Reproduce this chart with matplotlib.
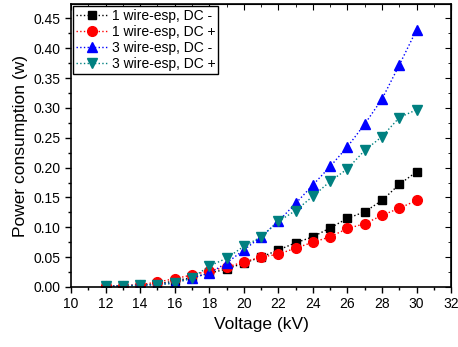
import numpy as np
import matplotlib.pyplot as plt
from matplotlib.ticker import MultipleLocator

plt.rcParams['font.family'] = ['Liberation Sans', 'DejaVu Sans']

voltage = [12, 13, 14, 15, 16, 17, 18, 19, 20, 21, 22, 23, 24, 25, 26, 27, 28, 29, 30]
wire1_neg = [0.001, 0.002, 0.003, 0.005, 0.010, 0.016, 0.023, 0.030, 0.040, 0.050, 0.062,
             0.074, 0.084, 0.099, 0.115, 0.126, 0.145, 0.172, 0.193]
wire1_pos = [0.001, 0.002, 0.004, 0.008, 0.014, 0.020, 0.027, 0.033, 0.042, 0.050, 0.055,
             0.065, 0.075, 0.084, 0.098, 0.106, 0.120, 0.132, 0.145]
wire3_neg = [0.001, 0.002, 0.003, 0.004, 0.007, 0.015, 0.023, 0.040, 0.062, 0.084, 0.110,
             0.140, 0.171, 0.202, 0.235, 0.273, 0.315, 0.372, 0.431]
wire3_pos = [0.001, 0.002, 0.003, 0.004, 0.006, 0.015, 0.035, 0.048, 0.068, 0.084, 0.110,
             0.128, 0.152, 0.177, 0.198, 0.229, 0.252, 0.284, 0.297]

fig = plt.figure(figsize=(4.58, 3.47), dpi=100)
ax = fig.add_axes([0.155, 0.173, 0.83, 0.815])

ax.plot(voltage, wire1_neg, ls=':', lw=1, color='black', marker='s', ms=6, label='1 wire-esp, DC -')
ax.plot(voltage, wire1_pos, ls=':', lw=1, color='red', marker='o', ms=7, label='1 wire-esp, DC +')
ax.plot(voltage, wire3_neg, ls=':', lw=1, color='blue', marker='^', ms=7, label='3 wire-esp, DC -')
ax.plot(voltage, wire3_pos, ls=':', lw=1, color='#008080', marker='v', ms=7, label='3 wire-esp, DC +')

ax.set_xlim(10, 32)
ax.set_ylim(0, 0.474)
ax.xaxis.set_major_locator(MultipleLocator(2))
ax.xaxis.set_minor_locator(MultipleLocator(1))
ax.yaxis.set_major_locator(MultipleLocator(0.05))
ax.yaxis.set_minor_locator(MultipleLocator(0.025))
ax.yaxis.set_major_formatter(plt.FormatStrFormatter('%.2f'))
for s in ax.spines.values():
    s.set_linewidth(1.2)

ax.tick_params(which='both', direction='out', labelsize=10, width=1)
ax.tick_params(which='major', length=4)
ax.tick_params(which='minor', length=2.5)

# mirrored inward ticks on top and right
axt = ax.secondary_xaxis('top')
axt.xaxis.set_major_locator(MultipleLocator(2))
axt.xaxis.set_minor_locator(MultipleLocator(1))
axt.tick_params(which='both', direction='in', labeltop=False)
axt.tick_params(which='major', length=4)
axt.tick_params(which='minor', length=2.5)
axr = ax.secondary_yaxis('right')
axr.yaxis.set_major_locator(MultipleLocator(0.05))
axr.yaxis.set_minor_locator(MultipleLocator(0.025))
axr.tick_params(which='both', direction='in', labelright=False)
axr.tick_params(which='major', length=4)
axr.tick_params(which='minor', length=2.5)

ax.set_xlabel('Voltage (kV)', fontsize=12.5)
ax.set_ylabel('Power consumption (w)', fontsize=12.5)

leg = ax.legend(loc='upper left', fontsize=10, fancybox=False, framealpha=1,
                edgecolor='black', borderaxespad=0.15, handlelength=2.3,
                labelspacing=0.15, borderpad=0.2, handletextpad=0.3)
leg.get_frame().set_linewidth(1)

fig.savefig('out.png', dpi=100)
